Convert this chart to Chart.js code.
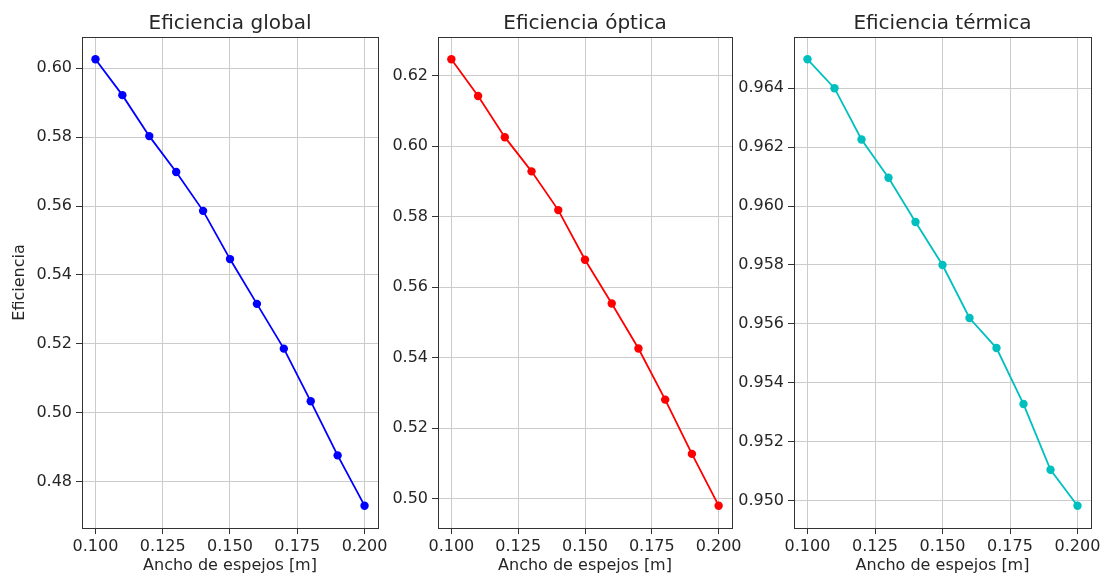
<!DOCTYPE html>
<html>
<head>
<meta charset="utf-8">
<script src="https://cdn.jsdelivr.net/npm/chart.js@4"></script>
<style>
    body { margin: 0; background: #fff; }
    #wrap { position: relative; width: 1112px; height: 580px; overflow: hidden; }
    canvas { position: absolute; left: 0; top: 0; }
</style>
</head>
<body>
<div id="wrap">
    <canvas id="chart-global" width="1112" height="580"></canvas>
    <canvas id="chart-optica" width="1112" height="580"></canvas>
    <canvas id="chart-termica" width="1112" height="580"></canvas>
</div>
<script>
// data
const anchos = [0.10, 0.11, 0.12, 0.13, 0.14, 0.15, 0.16, 0.17, 0.18, 0.19, 0.20];
const eficGlobal = [0.6026, 0.5922, 0.5803, 0.5699, 0.5586, 0.5446, 0.5316, 0.5186, 0.5033, 0.4876, 0.4730];
const eficOptica = [0.6247, 0.6143, 0.6026, 0.5929, 0.5819, 0.5678, 0.5554, 0.5426, 0.5281, 0.5127, 0.4980];
const eficTermica = [0.96498, 0.9640, 0.96226, 0.96096, 0.95946, 0.9580, 0.9562, 0.95518, 0.95328, 0.95105, 0.94983];

const xTicks = [0.100, 0.125, 0.150, 0.175, 0.200];
const yTicksGlobal = [0.48, 0.50, 0.52, 0.54, 0.56, 0.58, 0.60];
const yTicksOptica = [0.50, 0.52, 0.54, 0.56, 0.58, 0.60, 0.62];
const yTicksTermica = [0.950, 0.952, 0.954, 0.956, 0.958, 0.960, 0.962, 0.964];

Chart.defaults.font.family = 'DejaVu Sans';
Chart.defaults.font.size = 16;
Chart.defaults.color = '#262626';

// matplotlib style limits: 5% margin around the data
function limits (values) {
    const lo = Math.min(...values);
    const hi = Math.max(...values);
    const m = (hi - lo) * 0.05;
    return [lo - m, hi + m];
}

// box around the axes, like the matplotlib spines
const framePlugin = {
    id: 'frame',
    afterDraw (chart) {
        const a = chart.chartArea;
        const ctx = chart.ctx;
        ctx.save();
        ctx.strokeStyle = '#333';
        ctx.lineWidth = 1;
        ctx.strokeRect(Math.round(a.left) + 0.5, Math.round(a.top) + 0.5,
            Math.round(a.right - a.left), Math.round(a.bottom - a.top));
        ctx.restore();
    }
};

function createPanel (canvasId, title, values, yTicks, decimals, color, areaLeft, areaRight, axisWidth, yLabel) {
    const ctx = document.querySelector('#' + canvasId).getContext('2d');
    const [xMin, xMax] = limits(anchos);
    const [yMin, yMax] = limits(values);
    return new Chart(ctx, {
        type: 'line',
        data: {
            datasets: [{
                data: anchos.map((x, i) => ({ x: x, y: values[i] })),
                borderColor: color,
                backgroundColor: color,
                borderWidth: 1.8,
                pointRadius: 4.2,
                pointBorderWidth: 0,
                tension: 0
            }]
        },
        options: {
            responsive: false,
            animation: false,
            events: [],
            layout: {
                padding: { left: areaLeft - axisWidth, right: 1112 - areaRight, top: 0, bottom: 0 }
            },
            plugins: {
                legend: { display: false },
                tooltip: { enabled: false },
                title: {
                    display: true,
                    text: title,
                    fullSize: false,
                    font: { size: 20, weight: 'normal' },
                    padding: { top: 12, bottom: 1 }
                }
            },
            scales: {
                x: {
                    type: 'linear',
                    min: xMin,
                    max: xMax,
                    afterBuildTicks: scale => { scale.ticks = xTicks.map(v => ({ value: v })); },
                    afterFit: scale => {
                        scale.height = 52;
                        scale.paddingLeft = 0;
                        scale.paddingRight = 0;
                    },
                    ticks: {
                        autoSkip: false,
                        maxRotation: 0,
                        padding: 3,
                        callback: v => v.toFixed(3)
                    },
                    grid: { color: '#cccccc', tickColor: '#333', tickLength: 6 },
                    border: { display: false },
                    title: {
                        display: true,
                        text: 'Ancho de espejos [m]',
                        font: { size: 16 },
                        padding: { top: 0, bottom: 5 }
                    }
                },
                y: {
                    min: yMin,
                    max: yMax,
                    afterBuildTicks: scale => { scale.ticks = yTicks.map(v => ({ value: v })); },
                    afterFit: scale => {
                        scale.width = axisWidth;
                        scale.paddingTop = 0;
                        scale.paddingBottom = 0;
                    },
                    ticks: {
                        autoSkip: false,
                        padding: 4,
                        callback: v => v.toFixed(decimals)
                    },
                    grid: { color: '#cccccc', tickColor: '#333', tickLength: 6 },
                    border: { display: false },
                    title: {
                        display: yLabel !== '',
                        text: yLabel,
                        font: { size: 16 },
                        padding: { top: 10, bottom: 0 }
                    }
                }
            }
        },
        plugins: [framePlugin]
    });
}

createPanel('chart-global', 'Eficiencia global', eficGlobal, yTicksGlobal, 2, '#0000ff', 82, 378, 82, 'Eficiencia');
createPanel('chart-optica', 'Eficiencia óptica', eficOptica, yTicksOptica, 2, '#ff0000', 438, 732, 60, '');
createPanel('chart-termica', 'Eficiencia térmica', eficTermica, yTicksTermica, 3, '#00bfbf', 794, 1091, 72, '');
</script>
</body>
</html>
